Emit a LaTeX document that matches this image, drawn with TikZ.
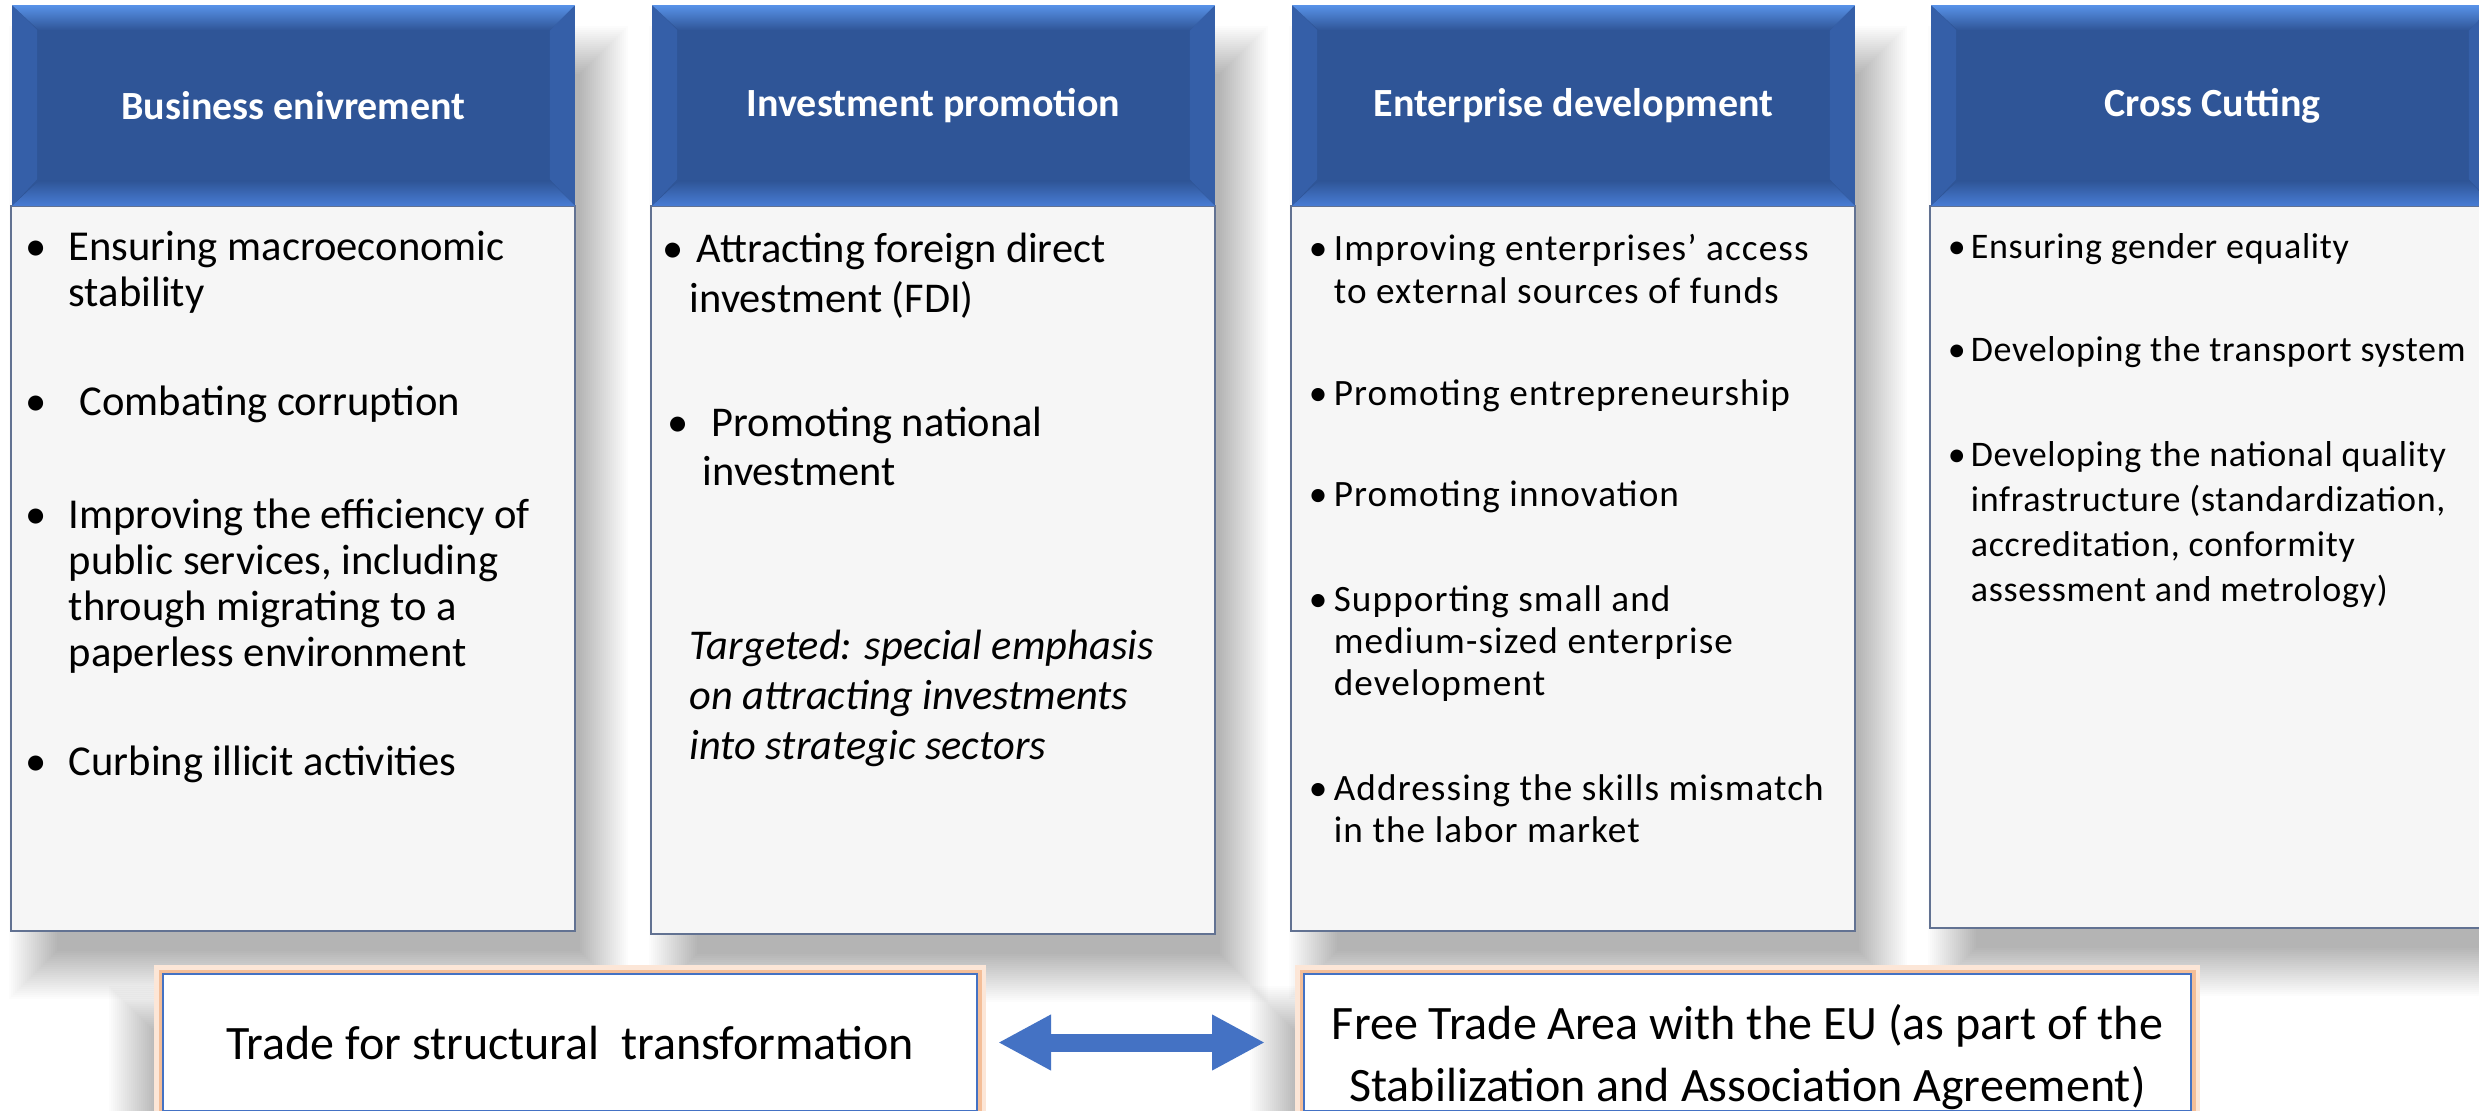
\documentclass[tikz,border=0pt]{standalone}
\usepackage{fontspec}
\setmainfont{Carlito}
\newfontfamily\widefont[LetterSpace=3]{Carlito}
\newfontfamily\crossfont[LetterSpace=2]{Carlito}
\usetikzlibrary{arrows.meta}
\newlength\pxl
\setlength\pxl{0.25pt}
\definecolor{headblue}{RGB}{47,85,151}
\definecolor{bevlight}{RGB}{88,146,232}
\definecolor{bevlow}{RGB}{72,124,212}
\definecolor{bevside}{RGB}{53,95,168}
\definecolor{bodygray}{RGB}{246,246,246}
\definecolor{bodyline}{RGB}{98,114,146}
\definecolor{linkblue}{RGB}{68,114,196}
\definecolor{glowout}{RGB}{252,230,215}
\definecolor{glowin}{RGB}{244,190,152}
\newcommand\bpoint[2]{\makebox[#1\pxl][l]{\textbullet}\begin{tabular}[t]{@{}l@{}}#2\end{tabular}}
\newcommand\bevel[1]{%
  \fill[bevside] (#1.north west) -- ++(25,25) -- ++(0,149) -- (#1.south west) -- cycle;
  \fill[bevside] (#1.north east) -- ++(-25,25) -- ++(0,149) -- (#1.south east) -- cycle;
  \shade[top color=bevlight, bottom color=headblue] (#1.north west) -- (#1.north east) -- ++(-25,25) -- ++(-511,0) -- cycle;
  \shade[top color=headblue, bottom color=bevlow] (#1.south west) -- (#1.south east) -- ++(-25,-25) -- ++(-511,0) -- cycle;}
\newcommand\softshadow[4]{%
  \foreach \k in {-12,...,12}{\fill[black, opacity=0.012] (#1+2*\k,#2+2*\k) rectangle (#3-2*\k,#4-2*\k);}}
\tikzset{
  headbox/.style={fill=headblue, minimum width=561*\pxl, minimum height=199*\pxl, inner sep=0pt, text=white, font=\fontsize{10}{12}\selectfont\bfseries},
  bodybox/.style={fill=bodygray, draw=bodyline, line width=2*\pxl, minimum width=564*\pxl, inner sep=0pt, anchor=north west},
  pointone/.style={anchor=base west, inner sep=0pt, font=\fontsize{10.65}{11.5}\selectfont},
  pointtwo/.style={anchor=base west, inner sep=0pt, font=\fontsize{10.6}{12.5}\selectfont},
  pointthree/.style={anchor=base west, inner sep=0pt, font=\widefont\fontsize{9.3}{10.6}\selectfont},
  pointfour/.style={anchor=base west, inner sep=0pt, font=\crossfont\fontsize{9}{11.3}\selectfont},
  tradebox/.style={fill=white, draw=linkblue, line width=2*\pxl, minimum height=137*\pxl, inner sep=0pt,
    preaction={draw=glowout, line width=18*\pxl}, preaction={draw=glowin, line width=9*\pxl},
    font=\fontsize{12}{15.5}\selectfont},
  linkarrow/.style={draw=linkblue, line width=18*\pxl, {Triangle[length=13.25pt,width=13pt]}-{Triangle[length=13.25pt,width=13pt]},
    shorten <=20*\pxl, shorten >=38*\pxl}
}
\begin{document}
\begin{tikzpicture}[x=0.25pt,y=-0.25pt]
\useasboundingbox (0,0) rectangle (2479,1111);
\clip (0,0) rectangle (2479,1111);
\fill[white] (0,0) rectangle (2479,1111);

\softshadow{33}{50}{604}{975}
\softshadow{673}{50}{1244}{978}
\softshadow{1313}{50}{1883}{975}
\softshadow{1952}{50}{2523}{972}
\softshadow{133}{1010}{957}{1150}
\softshadow{1274}{1010}{2171}{1150}

\node[bodybox, minimum height=725*\pxl] (busbody) at (10,205) {};
\node[bodybox, minimum height=728*\pxl] (invbody) at (650,205) {};
\node[bodybox, minimum height=725*\pxl] (entbody) at (1290,205) {};
\node[bodybox, minimum height=722*\pxl] (crossbody) at (1929,205) {};

\node[headbox] (bushead) at (293.5,105.5) {Business enivrement};
\node[headbox] (invhead) at (933.5,105.5) {Investment promotion};
\node[headbox] (enthead) at (1573.5,105.5) {Enterprise development};
\node[headbox] (crosshead) at (2212.5,105.5) {Cross Cutting};
\bevel{bushead}
\bevel{invhead}
\bevel{enthead}
\bevel{crosshead}

\node[pointone] (bus1) at (25,261) {\bpoint{43}{Ensuring macroeconomic\\stability}};
\node[pointone] (bus2) at (25,415) {\bpoint{54}{Combating corruption}};
\node[pointone] (bus3) at (25,528) {\bpoint{43}{Improving the efficiency of\\public services, including\\through migrating to a\\paperless environment}};
\node[pointone] (bus4) at (25,775) {\bpoint{43}{Curbing illicit activities}};

\node[pointtwo] (inv1) at (662,263) {\bpoint{34}{Attracting foreign direct\\\hspace*{-7\pxl}investment (FDI)}};
\node[pointtwo] (inv2) at (667,436) {\bpoint{44}{Promoting national\\\hspace*{-9\pxl}investment}};
\node[pointtwo, font=\fontsize{10.6}{12.5}\selectfont\itshape] (invnote) at (689,659) {\begin{tabular}[t]{@{}l@{}}Targeted: special emphasis\\on attracting investments\\into strategic sectors\end{tabular}};

\node[pointthree] (ent1) at (1308,261) {\bpoint{25}{Improving enterprises’ access\\to external sources of funds}};
\node[pointthree] (ent2) at (1308,405) {\bpoint{25}{Promoting entrepreneurship}};
\node[pointthree] (ent3) at (1308,506) {\bpoint{25}{Promoting innovation}};
\node[pointthree] (ent4) at (1308,611) {\bpoint{25}{Supporting small and\\medium-sized enterprise\\development}};
\node[pointthree] (ent5) at (1308,800) {\bpoint{25}{Addressing the skills mismatch\\in the labor market}};

\node[pointfour] (cross1) at (1947,259) {\bpoint{23}{Ensuring gender equality}};
\node[pointfour] (cross2) at (1947,362) {\bpoint{23}{Developing the transport system}};
\node[pointfour] (cross3) at (1947,466) {\bpoint{23}{Developing the national quality\\infrastructure (standardization,\\accreditation, conformity\\assessment and metrology)}};

\node[tradebox, minimum width=814*\pxl] (trade) at (570,1042.5) {Trade for structural\ \ transformation};
\node[tradebox, minimum width=887*\pxl] (fta) at (1747.5,1042.5) {\raisebox{-16\pxl}[\height][\depth]{\begin{tabular}{@{}c@{}}Free Trade Area with the EU (as part of the\\Stabilization and Association Agreement)\end{tabular}}};
\draw[linkarrow] (trade.east) -- (trade.east -| fta.west);
\end{tikzpicture}
\end{document}
